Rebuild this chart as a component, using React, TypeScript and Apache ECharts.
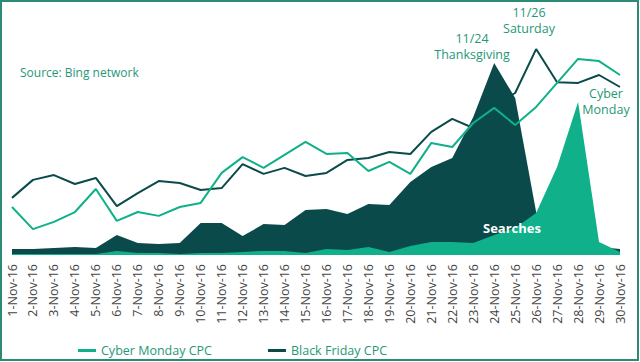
import React, { useEffect, useRef } from "react";
import * as echarts from "echarts";

const days = [
  "1-Nov-16", "2-Nov-16", "3-Nov-16", "4-Nov-16", "5-Nov-16", "6-Nov-16",
  "7-Nov-16", "8-Nov-16", "9-Nov-16", "10-Nov-16", "11-Nov-16", "12-Nov-16",
  "13-Nov-16", "14-Nov-16", "15-Nov-16", "16-Nov-16", "17-Nov-16", "18-Nov-16",
  "19-Nov-16", "20-Nov-16", "21-Nov-16", "22-Nov-16", "23-Nov-16", "24-Nov-16",
  "25-Nov-16", "26-Nov-16", "27-Nov-16", "28-Nov-16", "29-Nov-16", "30-Nov-16",
];

// Relative index values (0-100)
const blackFridayCPC = [
  23.8, 31.3, 33.3, 29.6, 32.1, 20.4, 25.8, 30.8, 30, 27.1,
  27.9, 37.9, 33.8, 36.3, 32.9, 34.2, 39.6, 40.4, 42.9, 42.1,
  51.3, 56.7, 52.9, 62.5, 67.5, 85.8, 72, 71.7, 75, 70,
];
const cyberMondayCPC = [
  20, 10.8, 13.8, 17.9, 27.5, 14.2, 17.9, 16.3, 20, 21.7,
  34.2, 40.8, 36.3, 41.7, 47.1, 42.1, 42.5, 35, 38.8, 33.8,
  46.7, 45, 55, 61.3, 54.2, 61.7, 71.7, 81.7, 80.8, 75,
];
const blackFridaySearches = [
  2.5, 2.5, 2.9, 3.3, 2.9, 8.3, 5, 4.6, 5, 13.3,
  13.3, 7.9, 12.9, 12.5, 18.8, 19.2, 17.1, 21.3, 20.8, 30.4,
  36.7, 40.4, 57.5, 80, 65.4, 17.9, 4.6, 4, 3.3, 2.5,
];
const cyberMondaySearches = [
  0.4, 0.4, 0.4, 0.4, 0.4, 1.7, 0.8, 0.8, 0.4, 0.8,
  0.8, 1.3, 1.7, 1.7, 0.8, 2.5, 2.1, 3.3, 1.3, 3.8,
  5.4, 5.4, 5, 8.3, 11.3, 17.5, 36.7, 63.8, 5.4, 1.3,
];

const DARK = "#0b4a4b";
const GREEN = "#0fb08a";
const TEXT_GREEN = "#1f9878";
const FONT = "'Open Sans', sans-serif";

export default function App() {
  const ref = useRef<HTMLDivElement>(null);

  useEffect(() => {
    if (!ref.current) return;
    const chart = echarts.init(ref.current, undefined, { renderer: "svg" });
    const annotation = (x: number, y: number, text: string) => ({
      type: "text",
      x,
      y,
      style: {
        text,
        fill: TEXT_GREEN,
        font: `12.5px ${FONT}`,
        align: "center",
        verticalAlign: "middle",
      },
      z: 100,
    });
    chart.setOption({
      animation: false,
      backgroundColor: "#ffffff",
      textStyle: { fontFamily: FONT },
      grid: { left: 12, right: 20, top: 15, bottom: 107 },
      xAxis: {
        type: "category",
        data: days,
        boundaryGap: false,
        axisLine: { show: false },
        axisTick: { show: false },
        axisLabel: {
          rotate: 90,
          interval: 0,
          margin: 9,
          color: "#444444",
          fontSize: 12.5,
          fontFamily: FONT,
        },
        splitLine: { show: false },
      },
      yAxis: {
        type: "value",
        min: 0,
        max: 100,
        show: false,
        splitLine: { show: false },
      },
      legend: {
        data: ["Cyber Monday CPC", "Black Friday CPC"],
        left: 73,
        top: 339,
        icon: "rect",
        itemWidth: 18,
        itemHeight: 3,
        itemGap: 56,
        textStyle: { color: TEXT_GREEN, fontSize: 12.5, fontFamily: FONT },
      },
      series: [
        {
          name: "Black Friday Searches",
          type: "line",
          data: blackFridaySearches,
          symbol: "none",
          lineStyle: { width: 0 },
          areaStyle: { color: DARK, opacity: 1 },
          itemStyle: { color: DARK },
          z: 1,
        },
        {
          name: "Cyber Monday Searches",
          type: "line",
          data: cyberMondaySearches,
          symbol: "none",
          lineStyle: { width: 0 },
          areaStyle: { color: GREEN, opacity: 1 },
          itemStyle: { color: GREEN },
          z: 2,
        },
        {
          name: "Black Friday CPC",
          type: "line",
          data: blackFridayCPC,
          symbol: "none",
          lineStyle: { width: 2, color: DARK },
          itemStyle: { color: DARK },
          z: 3,
        },
        {
          name: "Cyber Monday CPC",
          type: "line",
          data: cyberMondayCPC,
          symbol: "none",
          lineStyle: { width: 2, color: GREEN },
          itemStyle: { color: GREEN },
          z: 4,
        },
      ],
      graphic: [
        {
          type: "rect",
          shape: { x: 1, y: 1, width: 637, height: 359 },
          style: { fill: "none", stroke: "#2b8b77", lineWidth: 2 },
          z: 100,
        },
        {
          type: "text",
          x: 20,
          y: 72,
          style: {
            text: "Source: Bing network",
            fill: TEXT_GREEN,
            font: `12px ${FONT}`,
            verticalAlign: "middle",
          },
          z: 100,
        },
        annotation(472, 38, "11/24"),
        annotation(472, 54, "Thanksgiving"),
        annotation(529, 12, "11/26"),
        annotation(529, 28, "Saturday"),
        annotation(606, 93, "Cyber"),
        annotation(606, 109, "Monday"),
        {
          type: "text",
          x: 512,
          y: 228,
          style: {
            text: "Searches",
            fill: "#ffffff",
            font: `bold 13px ${FONT}`,
            align: "center",
            verticalAlign: "middle",
          },
          z: 100,
        },
      ],
    });
    return () => chart.dispose();
  }, []);

  return (
    <div
      ref={ref}
      style={{ position: "fixed", left: 0, top: 0, width: 640, height: 362 }}
    />
  );
}
